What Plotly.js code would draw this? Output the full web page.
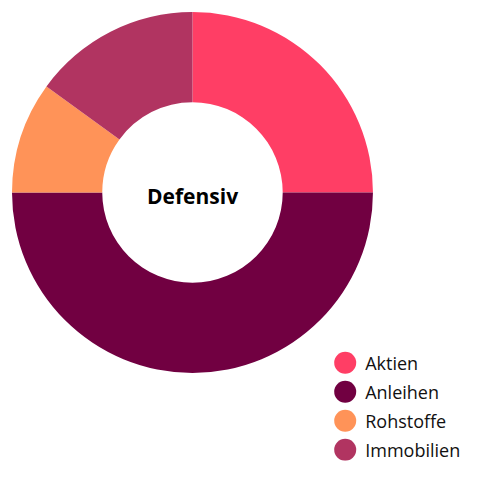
<!DOCTYPE html>
<html>
<head>
<meta charset="utf-8">
<script src="https://cdn.plot.ly/plotly-3.0.1.min.js"></script>
<style>
  html, body { margin: 0; padding: 0; background: #fff; }
  #chart { width: 480px; height: 480px; }
</style>
</head>
<body>
<div id="chart"></div>
<script>
	'use strict';

	// data
	const categories = [ 'Aktien', 'Anleihen', 'Rohstoffe', 'Immobilien' ];
	const shares = [ 25, 50, 10, 15 ];
	const sliceColors = [ '#ff3e65', '#710041', '#ff9358', '#b13461' ];
	const centerLabel = 'Defensiv';

	const pie = {
		type: 'pie',
		labels: categories,
		values: shares,
		hole: 0.5,
		sort: false,
		direction: 'clockwise',
		rotation: 0,
		textinfo: 'none',
		hoverinfo: 'label+percent',
		marker: { colors: sliceColors, line: { width: 0 } },
		domain: { x: [ 0.025, 0.777 ], y: [ 0.223, 0.975 ] }
	};

	const layout = {
		width: 480,
		height: 480,
		margin: { l: 0, r: 0, t: 0, b: 0 },
		paper_bgcolor: '#fff',
		font: { family: '"Open Sans", sans-serif', color: '#111' },
		showlegend: true,
		legend: {
			x: 0.6775, xanchor: 'left',
			y: 0.282, yanchor: 'top',
			font: { size: 18, color: '#111' },
			tracegroupgap: 0
		},
		annotations: [ {
			text: '<b>' + centerLabel + '</b>',
			x: 0.401, y: 0.592,
			xref: 'paper', yref: 'paper',
			showarrow: false,
			font: { size: 21, color: '#000', family: '"Open Sans", sans-serif' }
		} ]
	};

	Plotly.newPlot( 'chart', [ pie ], layout, { displayModeBar: false, staticPlot: true } ).then( gd => {
		// round legend swatches, a bit more room between entries
		gd.querySelectorAll( '.legendpoints path' ).forEach( p => {
			p.setAttribute( 'd', 'M11,0A11,11 0 1,1 0,-11A11,11 0 0,1 11,0Z' );
		});
		const items = gd.querySelectorAll( '.legend .traces' );
		let y0 = null;
		items.forEach( ( g, i ) => {
			const m = /translate\(\s*([-\d.]+)\s*,\s*([-\d.]+)\s*\)/.exec( g.getAttribute( 'transform' ) || '' );
			if ( !m ) return;
			if ( y0 === null ) y0 = parseFloat( m[2] );
			g.setAttribute( 'transform', `translate(${m[1]},${y0 + i * 29})` );
		});
	});
</script>
</body>
</html>
